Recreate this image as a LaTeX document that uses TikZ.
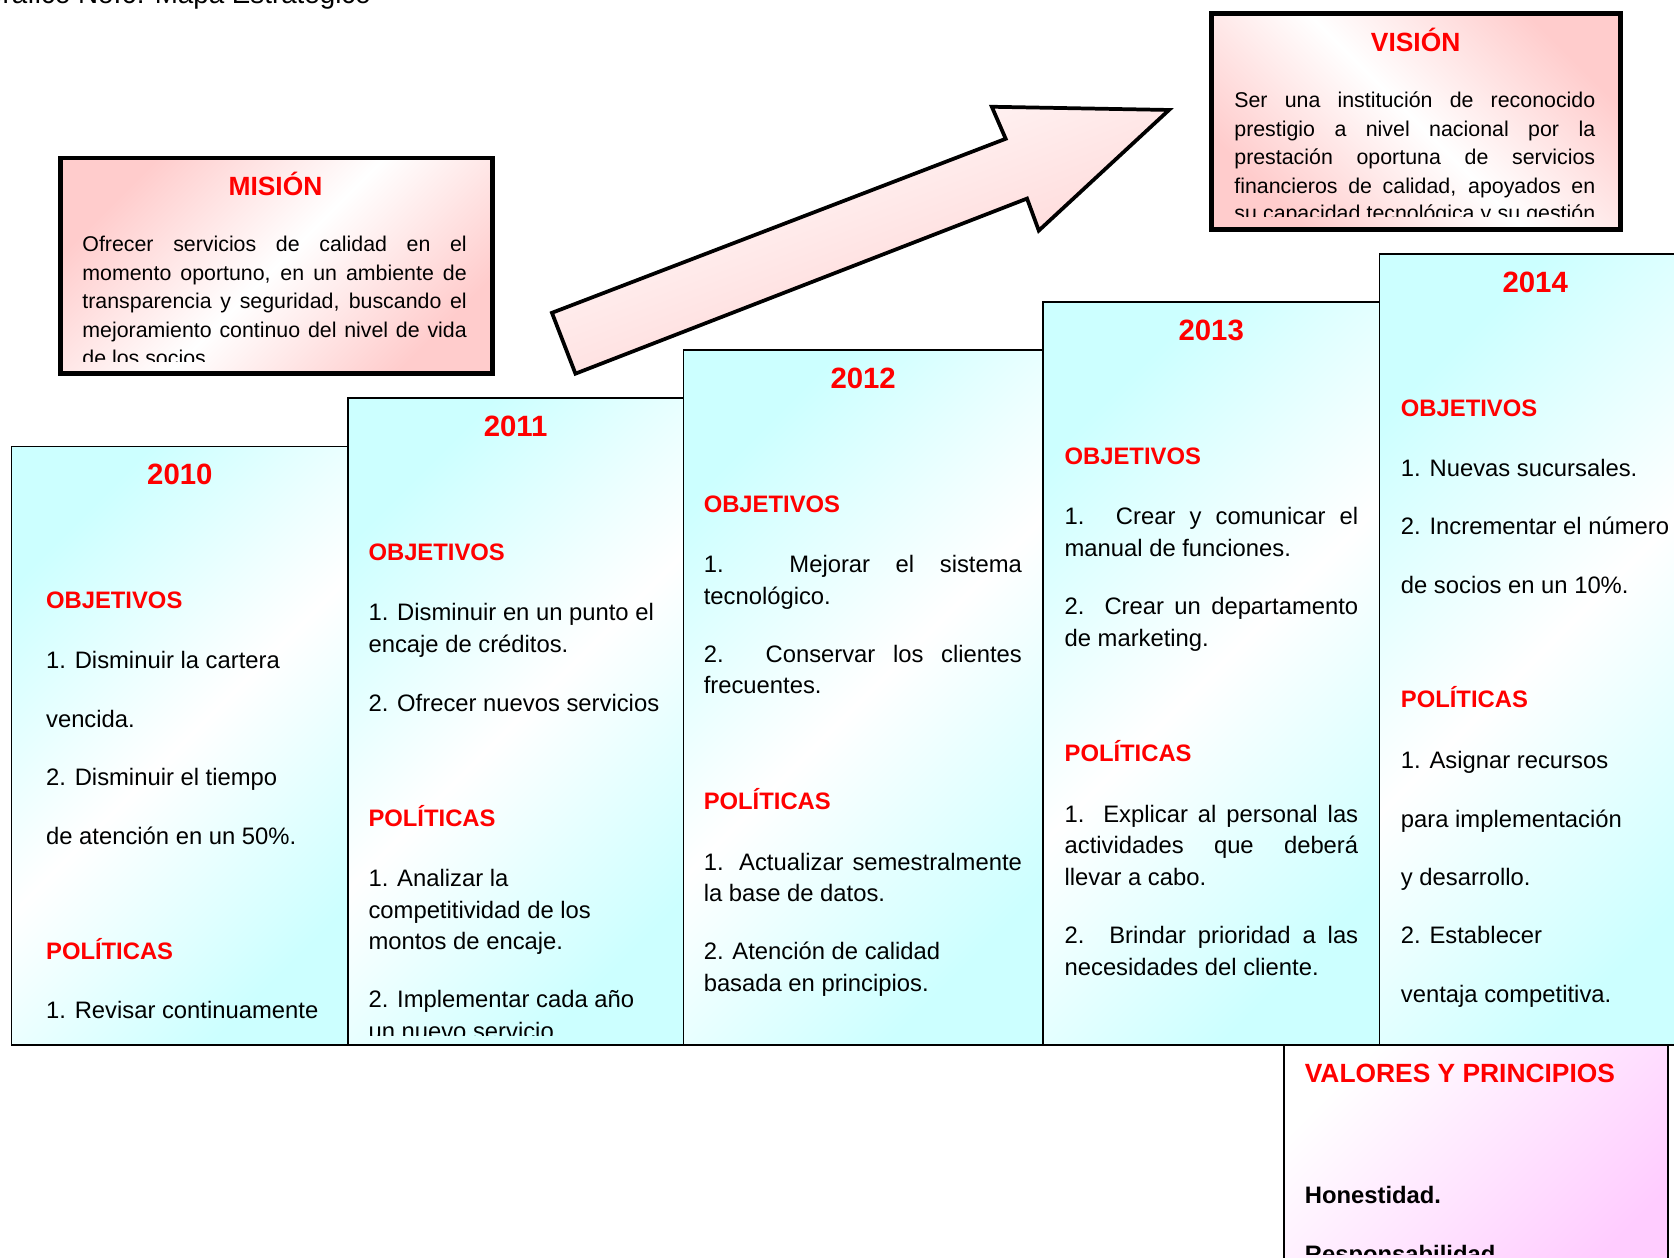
\documentclass[tikz,border=0pt]{standalone}
\usepackage{fontspec}
\setmainfont{Liberation Sans}
\definecolor{cyanfill}{RGB}{204,255,255}
\definecolor{pinkfill}{RGB}{255,204,204}
\definecolor{lilacfill}{RGB}{255,204,255}
\definecolor{titlered}{RGB}{255,0,0}
% a line of text stretched to the full justified width
\newcommand{\jl}[2]{\makebox[#1pt][s]{#2}}
\begin{document}
\begin{tikzpicture}[x=1pt,y=-1pt,
  yearbox/.style={draw=black, line width=1.4pt, top color=cyanfill, bottom color=cyanfill, middle color=white, shading angle=45},
  framebox/.style={draw=black, line width=4.5pt, top color=pinkfill, bottom color=pinkfill, middle color=white},
  body/.style={font=\fontsize{22.3}{26}\selectfont, anchor=base west, inner sep=0pt},
  heading/.style={font=\fontsize{22.3}{26}\selectfont\bfseries, text=titlered, anchor=base west, inner sep=0pt},
  year/.style={font=\fontsize{27.5}{32}\selectfont\bfseries, text=titlered, anchor=base, inner sep=0pt},
  boxtitle/.style={font=\fontsize{24.7}{30}\selectfont\bfseries, text=titlered, anchor=base, inner sep=0pt},
  small/.style={font=\fontsize{20}{24}\selectfont, anchor=base west, inner sep=0pt},
  value/.style={font=\fontsize{22.3}{26}\selectfont\bfseries, anchor=base west, inner sep=0pt},
]
\useasboundingbox (0,0) rectangle (1568,1178);
\clip (0,0) rectangle (1568,1178);

% caption above the map
\node[font=\fontsize{26}{30}\selectfont, anchor=base west, inner sep=0pt] (caption) at (-18,3) {Gráfico No.6: Mapa Estratégico};

% the five yearly steps
\path[yearbox] (11,418) rectangle (326,979);
\path[yearbox] (326,373) rectangle (640,979);
\path[yearbox] (640,328) rectangle (977,979);
\path[yearbox] (977,283) rectangle (1292,979);
\path[yearbox] (1292,238) rectangle (1600,979);

% values box
\path[draw=black, line width=2pt, top color=white, bottom color=lilacfill, shading angle=45] (1203,979) rectangle (1562,1200);

% rising arrow
\path[draw=black, line width=3.5pt, line join=miter, top color=white, bottom color=pinkfill, shading angle=21]
  (517,293) -- (942,130) -- (929,100) -- (1095,103) -- (973,216) -- (962,186) -- (539,350) -- cycle;

% mission and vision frames
\path[framebox, shading angle=45] (57,148) rectangle (461,350);
\path[framebox, shading angle=-45] (1135,13) rectangle (1518,215);

% 2010
\node[year] (y10) at (168.5,454) {2010};
\node[heading] (o10) at (43,570) {OBJETIVOS};
\node[body] (o10a) at (43,626) {1. Disminuir la cartera};
\node[body] (o10b) at (43,681) {vencida.};
\node[body] (o10c) at (43,736) {2. Disminuir el tiempo};
\node[body] (o10d) at (43,791) {de atención en un 50\%.};
\node[heading] (p10) at (43,899) {POLÍTICAS};
\node[body] (p10a) at (43,954) {1. Revisar continuamente};

% 2011
\begin{scope}
\clip (326,373) rectangle (640,970);
\node[year] (y11) at (483,409) {2011};
\node[heading] (o11) at (345,525) {OBJETIVOS};
\node[body] (o11a) at (345,581) {1. Disminuir en un punto el};
\node[body] (o11b) at (345,611) {encaje de créditos.};
\node[body] (o11c) at (345,666) {2. Ofrecer nuevos servicios};
\node[heading] (p11) at (345,774) {POLÍTICAS};
\node[body] (p11a) at (345,830) {1. Analizar la};
\node[body] (p11b) at (345,860) {competitividad de los};
\node[body] (p11c) at (345,889) {montos de encaje.};
\node[body] (p11d) at (345,944) {2. Implementar cada año};
\node[body] (p11e) at (345,974) {un nuevo servicio};
\end{scope}

% 2012
\node[year] (y12) at (808.5,364) {2012};
\node[heading] (o12) at (659,480) {OBJETIVOS};
\node[body] (o12a) at (659,536) {\jl{298}{1. Mejorar el sistema}};
\node[body] (o12b) at (659,566) {tecnológico.};
\node[body] (o12c) at (659,621) {\jl{298}{2. Conservar los clientes}};
\node[body] (o12d) at (659,650) {frecuentes.};
\node[heading] (p12) at (659,758) {POLÍTICAS};
\node[body] (p12a) at (659,815) {\jl{298}{1. Actualizar semestralmente}};
\node[body] (p12b) at (659,844) {la base de datos.};
\node[body] (p12c) at (659,899) {2. Atención de calidad};
\node[body] (p12d) at (659,929) {basada en principios.};

% 2013
\node[year] (y13) at (1134.5,319) {2013};
\node[heading] (o13) at (997,435) {OBJETIVOS};
\node[body] (o13a) at (997,491) {\jl{275}{1. Crear y comunicar el}};
\node[body] (o13b) at (997,521) {manual de funciones.};
\node[body] (o13c) at (997,576) {\jl{275}{2. Crear un departamento}};
\node[body] (o13d) at (997,606) {de marketing.};
\node[heading] (p13) at (997,713) {POLÍTICAS};
\node[body] (p13a) at (997,770) {\jl{275}{1. Explicar al personal las}};
\node[body] (p13b) at (997,799) {\jl{275}{actividades que deberá}};
\node[body] (p13c) at (997,829) {llevar a cabo.};
\node[body] (p13d) at (997,884) {\jl{275}{2. Brindar prioridad a las}};
\node[body] (p13e) at (997,914) {necesidades del cliente.};

% 2014
\node[year] (y14) at (1438,274) {2014};
\node[heading] (o14) at (1312,390) {OBJETIVOS};
\node[body] (o14a) at (1312,446) {1. Nuevas sucursales.};
\node[body] (o14b) at (1312,501) {2. Incrementar el número};
\node[body] (o14c) at (1312,556) {de socios en un 10\%.};
\node[heading] (p14) at (1312,663) {POLÍTICAS};
\node[body] (p14a) at (1312,720) {1. Asignar recursos};
\node[body] (p14b) at (1312,775) {para implementación};
\node[body] (p14c) at (1312,829) {y desarrollo.};
\node[body] (p14d) at (1312,884) {2. Establecer};
\node[body] (p14e) at (1312,939) {ventaja competitiva.};

% mission
\node[boxtitle] (mtitle) at (258,183) {MISIÓN};
\begin{scope}
\clip (60,150) rectangle (459,339);
\node[small] (m1) at (77,236) {\jl{360}{Ofrecer servicios de calidad en el}};
\node[small] (m2) at (77,263) {\jl{360}{momento oportuno, en un ambiente de}};
\node[small] (m3) at (77,289) {\jl{360}{transparencia y seguridad, buscando el}};
\node[small] (m4) at (77,316) {\jl{360}{mejoramiento continuo del nivel de vida}};
\node[small] (m5) at (77,342) {de los socios};
\end{scope}

% vision
\node[boxtitle] (vtitle) at (1326,48) {VISIÓN};
\begin{scope}
\clip (1138,16) rectangle (1515,203);
\node[small] (v1) at (1156,101) {\jl{338}{Ser una institución de reconocido}};
\node[small] (v2) at (1156,128) {\jl{338}{prestigio a nivel nacional por la}};
\node[small] (v3) at (1156,154) {\jl{338}{prestación oportuna de servicios}};
\node[small] (v4) at (1156,181) {\jl{338}{financieros de calidad, apoyados en}};
\node[small] (v5) at (1156,207) {\jl{338}{su capacidad tecnológica y su gestión}};
\end{scope}

% values and principles
\node[boxtitle, anchor=base west] (vptitle) at (1222,1014) {VALORES Y PRINCIPIOS};
\begin{scope}
\clip (1205,981) rectangle (1560,1175);
\node[value] (val1) at (1222,1127) {Honestidad.};
\node[value] (val2) at (1222,1183) {Responsabilidad.};
\end{scope}
\end{tikzpicture}
\end{document}
